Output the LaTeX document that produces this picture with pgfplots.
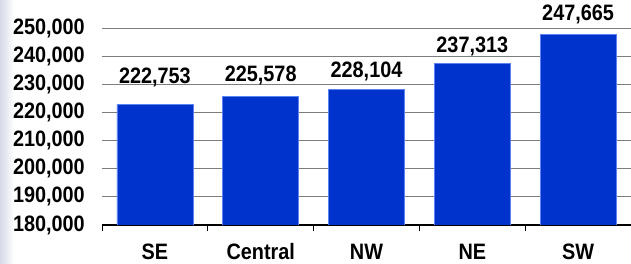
\documentclass[border=0pt]{standalone}
\usepackage{pgfplots}
\pgfplotsset{compat=1.18}
\usepackage{fontspec}
\setmainfont{Liberation Sans}
\newfontfamily\chartfont[FakeStretch=0.89]{Liberation Sans}
\definecolor{barblue}{RGB}{0,51,204}
\definecolor{baredge}{RGB}{90,130,240}
\definecolor{gridgray}{RGB}{125,125,125}
\definecolor{bgleft}{RGB}{214,218,232}
\newcommand{\cf}{\chartfont\bfseries\fontsize{22.3bp}{24bp}\selectfont}
\begin{document}
\begin{tikzpicture}
\useasboundingbox (-102bp,-39bp) rectangle (529bp,225bp);
\fill[left color=bgleft, right color=white] (-102bp,-39bp) rectangle (-88bp,225bp);
\begin{axis}[
  at={(0,0)}, anchor=south west,
  scale only axis,
  width=529bp, height=197bp,
  xmin=-0.5, xmax=4.5,
  ymin=180000, ymax=250000,
  xtick={0,1,2,3,4},
  xticklabels={SE,Central,NW,NE,SW},
  minor xtick={-0.5,0.5,1.5,2.5,3.5,4.5},
  ytick={180000,190000,200000,210000,220000,230000,240000,250000},
  major tick length=0pt,
  minor tick length=6bp,
  tick align=outside,
  tick style={black, line width=1pt},
  axis x line*=bottom,
  axis y line*=left,
  y axis line style={draw=none},
  x axis line style={black, line width=1.2pt, -},
  ymajorgrids,
  major grid style={gridgray, line width=1pt},
  scaled y ticks=false,
  /pgf/number format/.cd, fixed, precision=0, 1000 sep={,}, assume math mode=true,
  /pgfplots/.cd,
  yticklabel style={font=\cf, anchor=east, inner sep=0pt, xshift=-17bp},
  xticklabel style={font=\cf, anchor=base, inner sep=0pt, yshift=-34bp},
]
\addplot[ybar, bar width=76bp, fill=barblue, draw=baredge, line width=0.8pt]
  coordinates {(0,222753) (1,225578) (2,228104) (3,237313) (4,247665)};
\end{axis}
\begin{axis}[
  at={(0,0)}, anchor=south west,
  scale only axis,
  width=529bp, height=197bp,
  xmin=-0.5, xmax=4.5,
  ymin=180000, ymax=250000,
  hide axis, clip=false,
  /pgf/number format/.cd, fixed, precision=0, 1000 sep={,}, assume math mode=true,
  /pgfplots/.cd,
]
\addplot[draw=none, mark=none, point meta=explicit,
  nodes near coords={\pgfmathprintnumber{\pgfplotspointmeta}},
  nodes near coords style={font=\cf, anchor=base, inner sep=0pt, black}]
  coordinates {(0,230360) [222753] (1,230820) [225578] (2,232244) [228104] (3,241378) [237313] (4,252608) [247665]};
\end{axis}
\end{tikzpicture}
\end{document}
